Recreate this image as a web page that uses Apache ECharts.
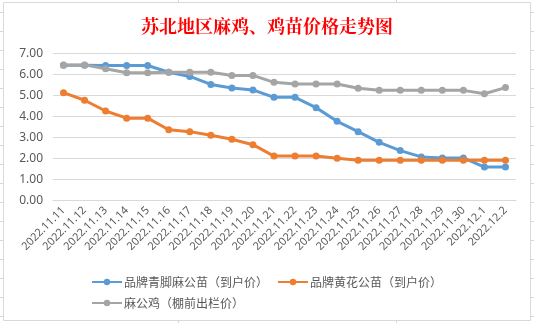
<!DOCTYPE html>
<html>
<head>
<meta charset="utf-8">
<script src="https://cdn.jsdelivr.net/npm/echarts@6/dist/echarts.min.js"></script>
<style>
  html, body { margin: 0; padding: 0; background: #ffffff; }
  #chart { width: 534px; height: 323px; }
</style>
</head>
<body>
<div id="chart"></div>
<script>
// Dates on the horizontal axis
const dates = [
  '2022.11.11', '2022.11.12', '2022.11.13', '2022.11.14', '2022.11.15', '2022.11.16',
  '2022.11.17', '2022.11.18', '2022.11.19', '2022.11.20', '2022.11.21', '2022.11.22',
  '2022.11.23', '2022.11.24', '2022.11.25', '2022.11.26', '2022.11.27', '2022.11.28',
  '2022.11.29', '2022.11.30', '2022.12.1', '2022.12.2'
];

// 品牌青脚麻公苗（到户价）
const qingjiaoChick = [6.43, 6.43, 6.42, 6.42, 6.42, 6.10, 5.90, 5.52, 5.35, 5.26, 4.91, 4.91,
                       4.42, 3.77, 3.28, 2.77, 2.38, 2.08, 2.03, 2.03, 1.60, 1.60];
// 品牌黄花公苗（到户价）
const huanghuaChick = [5.13, 4.77, 4.26, 3.92, 3.92, 3.37, 3.28, 3.11, 2.92, 2.66, 2.12, 2.12,
                       2.12, 2.02, 1.92, 1.92, 1.92, 1.92, 1.92, 1.92, 1.92, 1.92];
// 麻公鸡（棚前出栏价）
const magongji = [6.45, 6.45, 6.27, 6.08, 6.08, 6.10, 6.10, 6.10, 5.95, 5.95, 5.62, 5.54,
                  5.54, 5.54, 5.34, 5.24, 5.24, 5.24, 5.24, 5.24, 5.08, 5.37];

const seriesNames = ['品牌青脚麻公苗（到户价）', '品牌黄花公苗（到户价）', '麻公鸡（棚前出栏价）'];
const seriesColors = ['#5B9BD5', '#ED7D31', '#A5A5A5'];
const yTicks = { min: 0, max: 7, interval: 1 };

const W = 534, H = 323;
const sheetLine = '#D6D6E2';

// Worksheet cell borders peeking around the chart frame
const sheetMarks = [];
for (let y = 12; y <= 316; y += 19) {
  sheetMarks.push({ type: 'line', shape: { x1: 0, y1: y + 0.5, x2: 3, y2: y + 0.5 }, style: { stroke: sheetLine, lineWidth: 1 }, silent: true });
  sheetMarks.push({ type: 'line', shape: { x1: 531, y1: y + 0.5, x2: W, y2: y + 0.5 }, style: { stroke: sheetLine, lineWidth: 1 }, silent: true });
}
[178, 396].forEach(x => {
  sheetMarks.push({ type: 'line', shape: { x1: x + 0.5, y1: 0, x2: x + 0.5, y2: 2 }, style: { stroke: sheetLine, lineWidth: 1 }, silent: true });
  sheetMarks.push({ type: 'line', shape: { x1: x + 0.5, y1: 321, x2: x + 0.5, y2: H }, style: { stroke: sheetLine, lineWidth: 1 }, silent: true });
});

const chart = echarts.init(document.getElementById('chart'), null, { renderer: 'canvas' });

const makeSeries = (name, data, color) => ({
  name: name,
  type: 'line',
  data: data,
  symbol: 'circle',
  symbolSize: 7,
  showSymbol: true,
  lineStyle: { width: 3, color: color },
  itemStyle: { color: color },
  emphasis: { disabled: true },
  animation: false
});

chart.setOption({
  animation: false,
  backgroundColor: '#ffffff',
  title: {
    text: '苏北地区麻鸡、鸡苗价格走势图',
    left: 'center',
    top: 12,
    textStyle: {
      color: '#FF0000',
      fontSize: 18,
      fontWeight: 'bold',
      fontFamily: '"Noto Serif CJK SC", "Noto Sans CJK SC", serif'
    }
  },
  graphic: [
    { type: 'rect', shape: { x: 3.5, y: 2.5, width: 527, height: 318 }, style: { fill: 'none', stroke: '#D9D9D9', lineWidth: 1 }, silent: true, z: 100 }
  ].concat(sheetMarks),
  legend: {
    data: seriesNames,
    left: 86,
    top: 271,
    width: 360,
    itemWidth: 30,
    itemHeight: 8,
    itemGap: 9,
    textStyle: {
      color: '#595959',
      fontSize: 12,
      lineHeight: 11,
      fontFamily: '"Noto Sans CJK SC", sans-serif',
      padding: [0, 0, 0, -3]
    }
  },
  grid: {
    left: 53,
    right: W - 516,
    top: 53.3,
    bottom: H - 200.7,
    containLabel: false
  },
  xAxis: {
    type: 'category',
    data: dates,
    boundaryGap: true,
    axisLine: { show: true, lineStyle: { color: '#D9D9D9', width: 1 } },
    axisTick: { show: false },
    axisLabel: {
      interval: 0,
      rotate: 45,
      margin: 8,
      color: '#595959',
      fontSize: 11,
      fontFamily: '"Noto Sans", sans-serif'
    }
  },
  yAxis: {
    type: 'value',
    min: yTicks.min,
    max: yTicks.max,
    interval: yTicks.interval,
    axisLine: { show: false },
    axisTick: { show: false },
    splitLine: { lineStyle: { color: '#D9D9D9', width: 1 } },
    axisLabel: {
      margin: 10,
      color: '#595959',
      fontSize: 12,
      fontFamily: '"Noto Sans", sans-serif',
      formatter: v => v.toFixed(2)
    }
  },
  series: [
    makeSeries(seriesNames[0], qingjiaoChick, seriesColors[0]),
    makeSeries(seriesNames[1], huanghuaChick, seriesColors[1]),
    makeSeries(seriesNames[2], magongji, seriesColors[2])
  ]
});
</script>
</body>
</html>
